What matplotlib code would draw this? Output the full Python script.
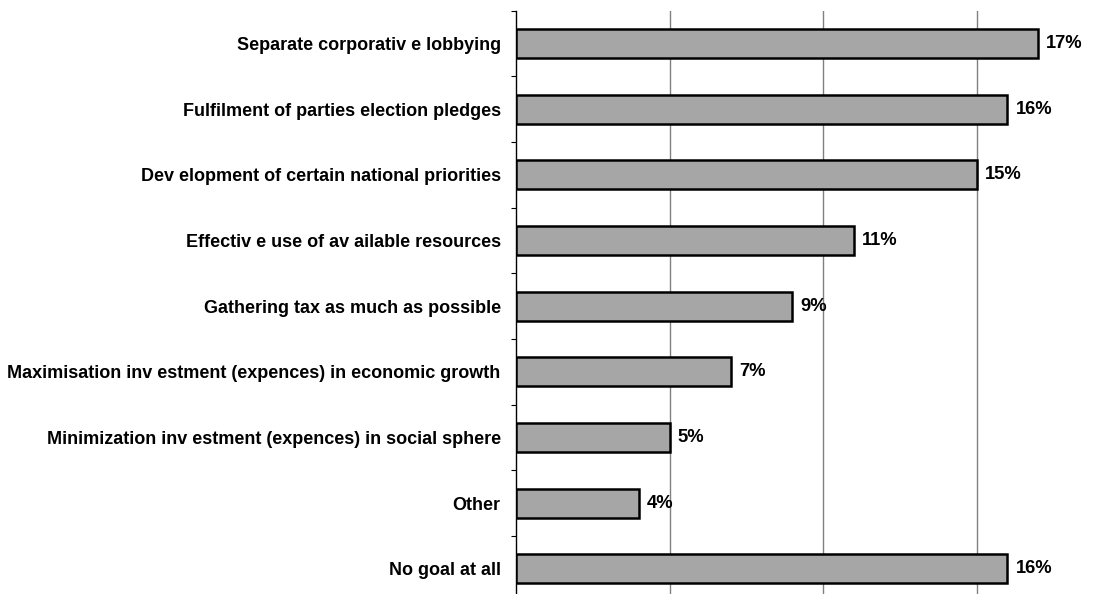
import numpy as np
import matplotlib as mpl
mpl.use('Agg')
import matplotlib.pyplot as plt

plt.rcParams['font.family'] = ['Liberation Sans', 'DejaVu Sans']

goals = ['Separate corporativ e lobbying',
         'Fulfilment of parties election pledges',
         'Dev elopment of certain national priorities',
         'Effectiv e use of av ailable resources',
         'Gathering tax as much as possible',
         'Maximisation inv estment (expences) in economic growth',
         'Minimization inv estment (expences) in social sphere',
         'Other',
         'No goal at all']
shares = [17, 16, 15, 11, 9, 7, 5, 4, 16]

W, H = 1116, 594
fig = plt.figure(figsize=(W / 100, H / 100), dpi=100)
# axes run a little past the bottom edge of the figure
x0, x1 = 516, 516 + 19 * 30.7
y_top, y_bot = 10.5, 10.5 + 9 * 65.7
ax = fig.add_axes([x0 / W, 1 - y_bot / H, (x1 - x0) / W, (y_bot - y_top) / H])

pos = np.arange(len(goals))
ax.barh(pos, shares, height=0.44, color='#a6a6a6', edgecolor='black', linewidth=1.8, zorder=3)
for p, v in zip(pos, shares):
    ax.text(v + 0.27, p, '%d%%' % v, va='center', ha='left',
            fontsize=13.2, fontweight='bold')

ax.set_xlim(0, 19)
ax.set_ylim(len(goals) - 0.5, -0.5)
ax.set_xticks([5, 10, 15])
ax.set_xticklabels([])
ax.tick_params(axis='x', length=0)
ax.grid(axis='x', color='#808080', linewidth=1, zorder=0)

ax.set_yticks(pos)
ax.set_yticklabels(goals, fontsize=13, fontweight='bold')
ax.set_yticks(np.arange(len(goals) + 1) - 0.5, minor=True)
ax.tick_params(axis='y', which='major', length=0, pad=11)
ax.tick_params(axis='y', which='minor', length=3.5, width=0.8, direction='out')

for s in ['top', 'right', 'bottom']:
    ax.spines[s].set_visible(False)
ax.spines['left'].set_linewidth(1)

plt.savefig('out.png', dpi=100)
plt.close()
